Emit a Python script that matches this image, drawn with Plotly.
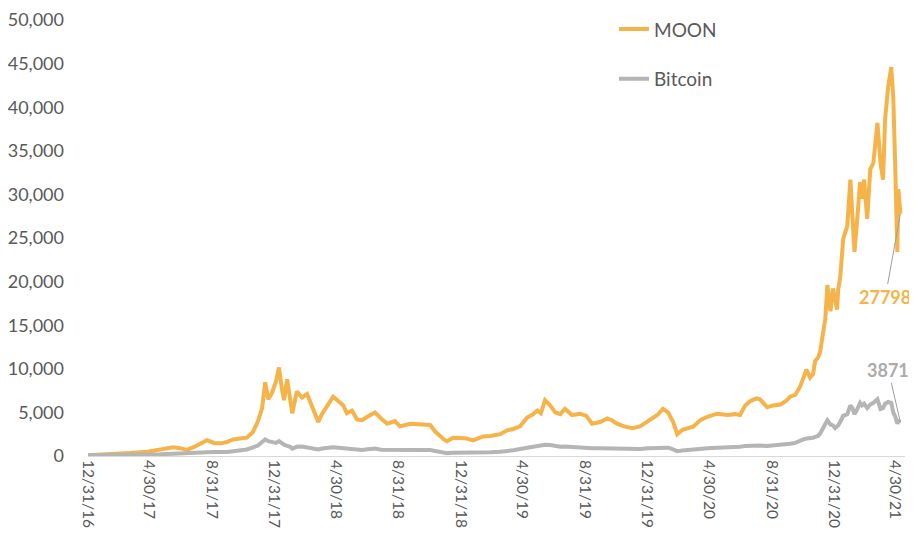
import plotly.graph_objects as go

dates = [
    "2016-12-31", "2017-01-24", "2017-02-22", "2017-03-23", "2017-04-26", "2017-05-21", "2017-06-16",
    "2017-06-29", "2017-07-13", "2017-07-29", "2017-08-21", "2017-09-04", "2017-09-16", "2017-09-29",
    "2017-10-11", "2017-10-25", "2017-11-07", "2017-11-19", "2017-11-29", "2017-12-07", "2017-12-13",
    "2017-12-19", "2017-12-26", "2018-01-03", "2018-01-09", "2018-01-15", "2018-01-19", "2018-01-25",
    "2018-01-31", "2018-02-04", "2018-02-13", "2018-02-23", "2018-03-05", "2018-03-17", "2018-03-27",
    "2018-04-03", "2018-04-13", "2018-04-25", "2018-05-05", "2018-05-15", "2018-05-22", "2018-06-01",
    "2018-06-11", "2018-06-21", "2018-07-01", "2018-07-16", "2018-07-28", "2018-08-09", "2018-08-24",
    "2018-09-03", "2018-09-23", "2018-10-12", "2018-11-01", "2018-11-11", "2018-11-21", "2018-11-28",
    "2018-12-04", "2018-12-16", "2018-12-30", "2019-01-12", "2019-01-24", "2019-02-13", "2019-02-27",
    "2019-03-18", "2019-04-01", "2019-04-13", "2019-04-26", "2019-05-10", "2019-05-22", "2019-05-30",
    "2019-06-06", "2019-06-14", "2019-06-24", "2019-07-04", "2019-07-14", "2019-07-23", "2019-08-06",
    "2019-08-22", "2019-09-03", "2019-09-14", "2019-09-30", "2019-10-14", "2019-10-23", "2019-11-02",
    "2019-11-16", "2019-12-02", "2019-12-17", "2020-01-02", "2020-01-20", "2020-01-31", "2020-02-10",
    "2020-02-20", "2020-02-28", "2020-03-09", "2020-03-18", "2020-03-30", "2020-04-13", "2020-04-27",
    "2020-05-16", "2020-06-05", "2020-06-20", "2020-06-30", "2020-07-10", "2020-07-20", "2020-08-01",
    "2020-08-08", "2020-08-22", "2020-09-03", "2020-09-17", "2020-09-28", "2020-10-06", "2020-10-16",
    "2020-10-26", "2020-11-01", "2020-11-07", "2020-11-14", "2020-11-20", "2020-11-24", "2020-11-30",
    "2020-12-04", "2020-12-10", "2020-12-14", "2020-12-18", "2020-12-24", "2020-12-29", "2021-01-02",
    "2021-01-06", "2021-01-08", "2021-01-12", "2021-01-18", "2021-01-26", "2021-02-01", "2021-02-05",
    "2021-02-09", "2021-02-14", "2021-02-20", "2021-02-24", "2021-02-28", "2021-03-06", "2021-03-12",
    "2021-03-18", "2021-03-26", "2021-04-01", "2021-04-06", "2021-04-10", "2021-04-16", "2021-04-22",
    "2021-04-26", "2021-04-30", "2021-05-04", "2021-05-06", "2021-05-10",
]

moon = [
    100, 150, 250, 350, 500, 700, 1000,
    900, 700, 1100, 1800, 1500, 1450, 1600,
    1900, 2000, 2100, 2750, 4000, 5500, 8450,
    6500, 7200, 8500, 10150, 7600, 6400, 8800,
    6800, 4900, 7400, 6700, 7100, 5200, 3900,
    4800, 5800, 6800, 6300, 5800, 4900, 5200,
    4200, 4100, 4500, 5000, 4300, 3700, 4000,
    3400, 3700, 3600, 3550, 2800, 2200, 1900,
    1700, 2100, 2050, 2000, 1800, 2250, 2300,
    2500, 2950, 3100, 3400, 4400, 4800, 5200,
    4900, 6400, 5800, 5000, 4800, 5400, 4700,
    4850, 4600, 3700, 3900, 4300, 4100, 3700,
    3400, 3200, 3400, 4000, 4700, 5400, 5000,
    3900, 2500, 3000, 3200, 3350, 4100, 4500,
    4850, 4700, 4800, 4700, 5800, 6300, 6600,
    6500, 5600, 5800, 5900, 6300, 6800, 7000,
    8000, 9000, 9900, 9000, 9400, 10900, 11300,
    12000, 14000, 15800, 19600, 16600, 19200, 17700,
    16800, 19000, 20400, 24900, 26400, 31700, 28000,
    23400, 26800, 31400, 29500, 31700, 27200, 32900,
    33600, 38200, 33600, 31700, 38600, 42300, 44600,
    41200, 32900, 23400, 30600, 27798,
]

bitcoin = [
    96, 100, 110, 120, 150, 200, 260,
    280, 250, 300, 420, 450, 430, 450,
    550, 600, 750, 1000, 1200, 1600, 1900,
    1700, 1600, 1500, 1700, 1400, 1300, 1150,
    1050, 850, 1050, 1100, 1000, 900, 750,
    850, 950, 1000, 950, 880, 850, 850,
    700, 700, 780, 850, 720, 700, 700,
    680, 680, 700, 680, 600, 420, 350,
    330, 380, 370, 360, 350, 400, 420,
    500, 550, 650, 800, 950, 1050, 1100,
    1150, 1300, 1250, 1100, 1050, 1100, 1020,
    1000, 950, 900, 880, 870, 860, 850,
    800, 770, 800, 900, 950, 1000, 950,
    750, 550, 620, 680, 700, 800, 900,
    950, 950, 980, 1050, 1150, 1200, 1250,
    1200, 1150, 1200, 1250, 1300, 1400, 1500,
    1800, 1900, 2000, 2000, 2100, 2200, 2300,
    2600, 3300, 3600, 4100, 3600, 3500, 3200,
    3400, 3500, 3900, 4600, 4800, 5800, 5500,
    4800, 5300, 6100, 5800, 6000, 5500, 5900,
    6100, 6500, 5400, 5500, 6000, 6200, 6100,
    5000, 4500, 3700, 4000, 3871,
]

tick_dates = [
    "2016-12-31", "2017-04-30", "2017-08-31", "2017-12-31", "2018-04-30", "2018-08-31",
    "2018-12-31", "2019-04-30", "2019-08-31", "2019-12-31", "2020-04-30", "2020-08-31",
    "2020-12-31", "2021-04-30",
]
tick_labels = [
    "12/31/16", "4/30/17", "8/31/17", "12/31/17", "4/30/18", "8/31/18",
    "12/31/18", "4/30/19", "8/31/19", "12/31/19", "4/30/20", "8/31/20",
    "12/31/20", "4/30/21",
]
y_ticks = [0, 5000, 10000, 15000, 20000, 25000, 30000, 35000, 40000, 45000, 50000]

ORANGE = "#F5B349"
GRAY = "#B5B5B5"
TEXT = "#595959"
FONT = "Lato"

fig = go.Figure()
fig.add_trace(go.Scatter(x=dates, y=moon, mode="lines", name="MOON",
                         line=dict(color=ORANGE, width=4), legendgroup="a"))
fig.add_trace(go.Scatter(x=dates, y=bitcoin, mode="lines", name="Bitcoin",
                         line=dict(color=GRAY, width=4), legendgroup="b"))

fig.add_annotation(x=dates[-1], y=moon[-1], text=str(moon[-1]), showarrow=True,
                   arrowhead=0, arrowwidth=1, arrowcolor="#9E9E9E", ax=-15, ay=83,
                   font=dict(family=FONT, size=18, color=ORANGE, weight="bold"))
fig.add_annotation(x=dates[-1], y=bitcoin[-1], text=str(bitcoin[-1]), showarrow=True,
                   arrowhead=0, arrowwidth=1, arrowcolor="#9E9E9E", ax=-12, ay=-52,
                   font=dict(family=FONT, size=18, color="#ABABAB", weight="bold"))

fig.update_layout(
    width=917, height=546, autosize=False,
    margin=dict(l=80, r=20, t=0, b=98),
    paper_bgcolor="white", plot_bgcolor="white",
    font=dict(family=FONT, color=TEXT),
    showlegend=True,
    legend=dict(x=(606 - 80) / 817, y=0.995, xanchor="left", yanchor="top",
                font=dict(family=FONT, size=19, color=TEXT),
                traceorder="grouped", tracegroupgap=22, bgcolor="rgba(0,0,0,0)"),
    xaxis=dict(type="date", range=["2016-12-31", "2021-05-19"],
               tickmode="array", tickvals=tick_dates, ticktext=tick_labels,
               tickangle=90, tickfont=dict(family=FONT, size=15.5, color=TEXT),
               showline=True, linecolor="#D9D9D9", linewidth=1,
               showgrid=False, zeroline=False, ticks="", automargin=False),
    yaxis=dict(range=[0, 51376], tickmode="array", tickvals=y_ticks,
               tickformat=",", tickfont=dict(family=FONT, size=18, color=TEXT),
               showgrid=False, zeroline=False, showline=False, ticks="",
               ticklabelstandoff=23, automargin=False, ticklabeloverflow="allow"),
)

fig.write_html("out.html")
